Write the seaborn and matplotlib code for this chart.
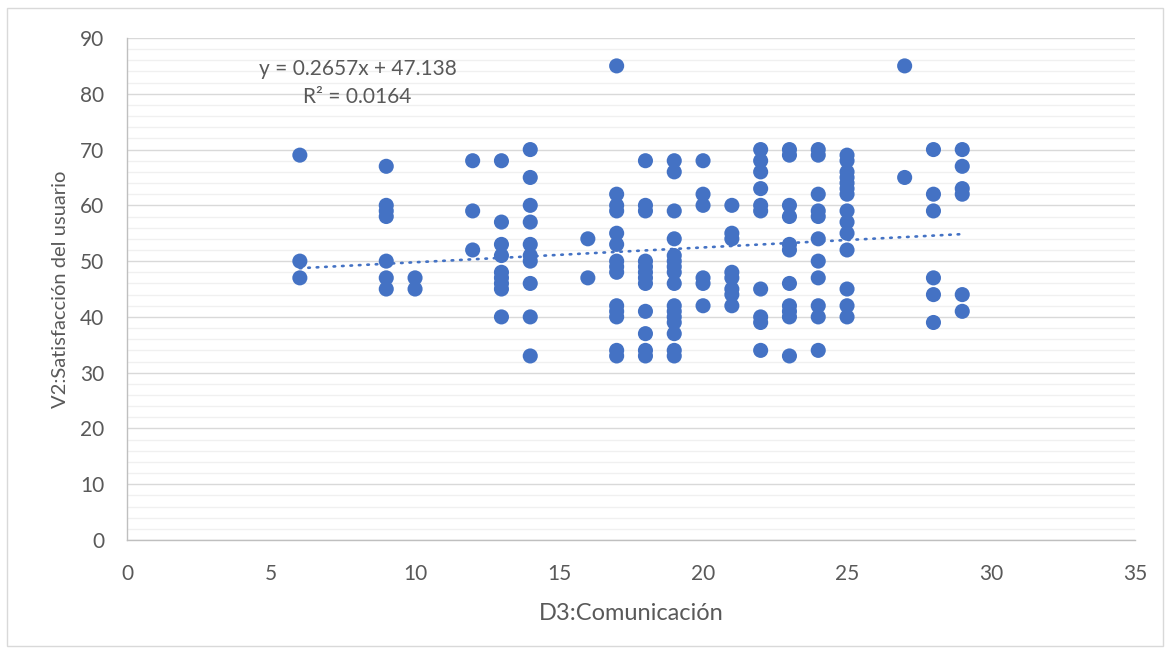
"""
Dispersion D3:Comunicación vs V2:Satisfacción del usuario, with linear trendline.
"""
import matplotlib
matplotlib.use("Agg")
import matplotlib.pyplot as plt
import numpy as np
import pandas as pd
import seaborn as sns
from matplotlib.patches import Rectangle
from matplotlib.ticker import MultipleLocator

# -----------------------------------------------------------------
# Data (one list of y values per x column)
# -----------------------------------------------------------------
columns = {
    6: [69, 50, 47],
    9: [67, 60, 59, 58, 50, 47, 45],
    10: [47, 45],
    12: [68, 59, 52],
    13: [68, 57, 53, 51, 48, 47, 46, 45, 40],
    14: [70, 65, 60, 57, 53, 51, 50, 46, 40, 33],
    16: [54, 47],
    17: [85, 62, 60, 59, 55, 53, 50, 49, 48, 42, 41, 40, 34, 33],
    18: [68, 60, 59, 50, 49, 48, 47, 46, 41, 37, 34, 33],
    19: [68, 66, 59, 54, 51, 50, 49, 48, 46, 42, 41, 40, 39, 37, 34, 33],
    20: [68, 62, 60, 47, 46, 42],
    21: [60, 55, 54, 48, 47, 45, 44, 42],
    22: [70, 68, 66, 63, 60, 59, 45, 40, 39, 34],
    23: [70, 69, 60, 58, 53, 52, 46, 42, 41, 40, 33],
    24: [70, 69, 62, 59, 58, 54, 50, 47, 42, 40, 34],
    25: [69, 68, 66, 65, 64, 63, 62, 59, 57, 55, 52, 45, 42, 40],
    27: [85, 65],
    28: [70, 62, 59, 47, 44, 39],
    29: [70, 67, 63, 62, 44, 41],
}
comunicacion = [x for x, ys in columns.items() for _ in ys]
satisfaccion = [y for ys in columns.values() for y in ys]

# trendline as printed on the chart
slope = 0.2657
intercept = 47.138
r2 = 0.0164

df = pd.DataFrame({"D3:Comunicación": comunicacion,
                   "V2:Satisfacción del usuario": satisfaccion})

# -----------------------------------------------------------------
# Style
# -----------------------------------------------------------------
sns.set_style("white")
plt.rcParams["font.family"] = ["Lato", "DejaVu Sans"]

BLUE = "#4472C4"
GREY_TXT = "#595959"

fig = plt.figure(figsize=(11.71, 6.53), dpi=100)
ax = fig.add_axes([0.1085, 0.173, 0.8608, 0.7688])

# chart-area border
fig.patches.append(Rectangle((7 / 1171, 7 / 653), 1 - 15 / 1171, 1 - 15 / 653,
                             transform=fig.transFigure, fill=False,
                             edgecolor="#d9d9d9", linewidth=1.0))

sns.scatterplot(data=df, x="D3:Comunicación", y="V2:Satisfacción del usuario",
                ax=ax, color=BLUE, s=118, edgecolor="none", zorder=3)

# dotted linear trendline
xs = np.array([min(comunicacion), max(comunicacion)])
ax.plot(xs, slope * xs + intercept, color=BLUE, linewidth=1.9,
        linestyle=(0, (0.6, 2.6)), dash_capstyle="round", zorder=4)

ax.text(8.0, 84.4, f"y = {slope}x + {intercept}", ha="center", va="center",
        fontsize=15, color=GREY_TXT)
ax.text(8.0, 79.4, f"R² = {r2}", ha="center", va="center",
        fontsize=15, color=GREY_TXT)

ax.set_xlim(0, 35)
ax.set_ylim(0, 90)
ax.xaxis.set_major_locator(MultipleLocator(5))
ax.yaxis.set_major_locator(MultipleLocator(10))
ax.yaxis.set_minor_locator(MultipleLocator(2))

ax.grid(axis="y", which="major", color="#d9d9d9", linewidth=1.0, zorder=0)
ax.grid(axis="y", which="minor", color="#f0f0f0", linewidth=1.0, zorder=0)
ax.grid(axis="x", visible=False)
ax.set_axisbelow(True)

for side in ["top", "right"]:
    ax.spines[side].set_visible(False)
for side in ["left", "bottom"]:
    ax.spines[side].set_color("#bfbfbf")
    ax.spines[side].set_linewidth(1.0)

ax.tick_params(axis="both", which="major", direction="out", length=6,
               color="#bfbfbf", labelsize=15, labelcolor=GREY_TXT)
ax.tick_params(axis="x", which="major", pad=11)
ax.tick_params(axis="y", which="major", pad=10.5)
ax.tick_params(axis="y", which="minor", length=0)

ax.set_xlabel("D3:Comunicación", fontsize=17, color=GREY_TXT, labelpad=14)
ax.set_ylabel("V2:Satisfacción del usuario", fontsize=14.5, color=GREY_TXT, labelpad=8)

plt.savefig("out.png", dpi=100)
plt.close()
